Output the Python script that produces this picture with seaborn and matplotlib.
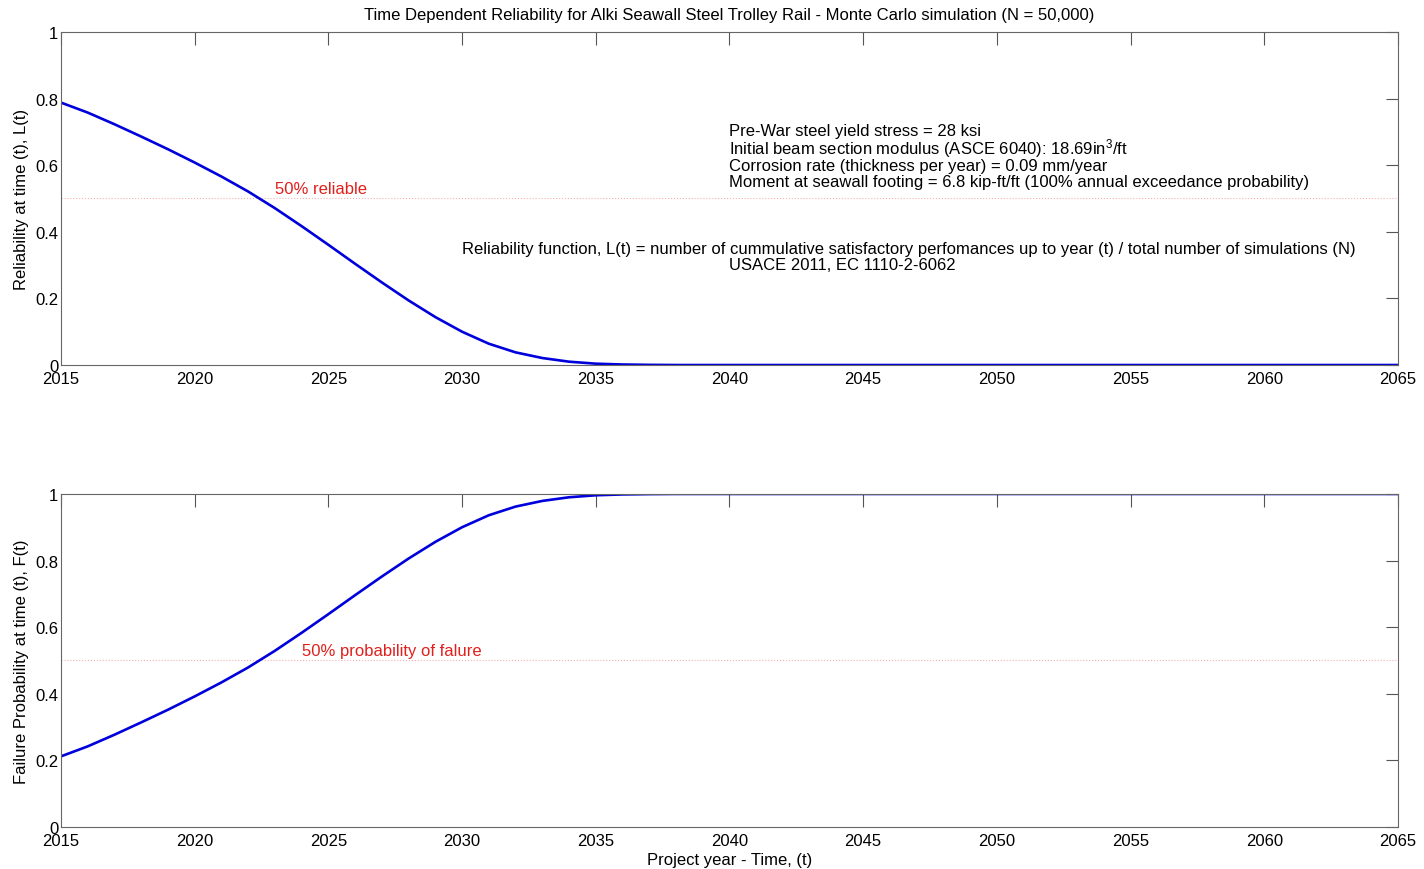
import matplotlib
matplotlib.use("Agg")
import matplotlib.pyplot as plt
import seaborn as sns
import pandas as pd

years = list(range(2015, 2066))
reliability_head = [0.788, 0.758, 0.723, 0.686, 0.648, 0.608, 0.566, 0.521, 0.471, 0.417,
                    0.361, 0.304, 0.248, 0.194, 0.144, 0.100, 0.064, 0.038, 0.021, 0.010,
                    0.004, 0.0015, 0.0005]
reliability = reliability_head + [0.0] * (len(years) - len(reliability_head))
failure_head = [0.212, 0.242, 0.277, 0.314, 0.352, 0.392, 0.434, 0.479, 0.529, 0.583,
                0.639, 0.696, 0.752, 0.806, 0.856, 0.900, 0.936, 0.962, 0.979, 0.990,
                0.996, 0.9985, 0.9995]
failure = failure_head + [1.0] * (len(years) - len(failure_head))

xticks = list(range(2015, 2066, 5))
yticks = [0, 0.2, 0.4, 0.6, 0.8, 1]
ytick_labels = ["0", "0.2", "0.4", "0.6", "0.8", "1"]

title = "Time Dependent Reliability for Alki Seawall Steel Trolley Rail - Monte Carlo simulation (N = 50,000)"
info_lines = ["Pre-War steel yield stress = 28 ksi",
              "Initial beam section modulus (ASCE 6040): 18.69in$^3$/ft",
              "Corrosion rate (thickness per year) = 0.09 mm/year",
              "Moment at seawall footing = 6.8 kip-ft/ft (100% annual exceedance probability)"]
info_y = [0.703, 0.652, 0.600, 0.550]
func_line = "Reliability function, L(t) = number of cummulative satisfactory perfomances up to year (t) / total number of simulations (N)"
ref_line = "USACE 2011, EC 1110-2-6062"

df = pd.DataFrame({"year": years, "L": reliability, "F": failure})

sns.set_style("white")
plt.rcParams["font.family"] = ["Liberation Sans", "DejaVu Sans"]
plt.rcParams["mathtext.default"] = "regular"
plt.rcParams["font.size"] = 12
plt.rcParams["text.color"] = "black"
plt.rcParams["axes.labelcolor"] = "black"
plt.rcParams["xtick.labelcolor"] = "black"
plt.rcParams["ytick.labelcolor"] = "black"

fig = plt.figure(figsize=(14.24, 8.70), dpi=100)
ax1 = fig.add_axes([0.0428, 0.5793, 0.9389, 0.3828])
ax2 = fig.add_axes([0.0428, 0.0483, 0.9389, 0.3828])

line_color = "#0000dc"
red = "#e0201c"
fs = 12

for ax, col in ((ax1, "L"), (ax2, "F")):
    sns.lineplot(data=df, x="year", y=col, ax=ax, color=line_color, linewidth=1.9)
    ax.axhline(0.5, color="#f4b0b0", linestyle=":", linewidth=0.8, zorder=0)
    ax.set_xlim(2015, 2065)
    ax.set_ylim(0, 1)
    ax.set_xticks(xticks)
    ax.set_xticklabels([str(x) for x in xticks])
    ax.set_yticks(yticks)
    ax.set_yticklabels(ytick_labels)
    ax.tick_params(direction="in", length=9, width=0.8, color="#555555",
                   top=True, right=True, labelsize=fs, labelcolor="black")
    ax.tick_params(axis="x", pad=4)
    ax.tick_params(axis="y", pad=2)
    for s in ax.spines.values():
        s.set_color("#666666")
        s.set_linewidth(0.8)
    ax.set_xlabel("")

ax1.set_ylabel("Reliability at time (t), L(t)", fontsize=fs, labelpad=4, color="black")
ax2.set_ylabel("Failure Probability at time (t), F(t)", fontsize=fs, labelpad=4, color="black")
ax2.set_xlabel("Project year - Time, (t)", fontsize=fs, labelpad=3, color="black")
ax1.set_title(title, fontsize=fs, pad=9, color="black")

ax1.text(2023.0, 0.53, "50% reliable", color=red, fontsize=fs, ha="left", va="center")
ax2.text(2024.0, 0.53, "50% probability of falure", color=red, fontsize=fs, ha="left", va="center")

for txt, yv in zip(info_lines, info_y):
    ax1.text(2040.0, yv, txt, fontsize=fs, ha="left", va="center", color="black")
ax1.text(2030.0, 0.351, func_line, fontsize=fs, ha="left", va="center", color="black")
ax1.text(2040.0, 0.303, ref_line, fontsize=fs, ha="left", va="center", color="black")

fig.savefig("out.png", dpi=100)
